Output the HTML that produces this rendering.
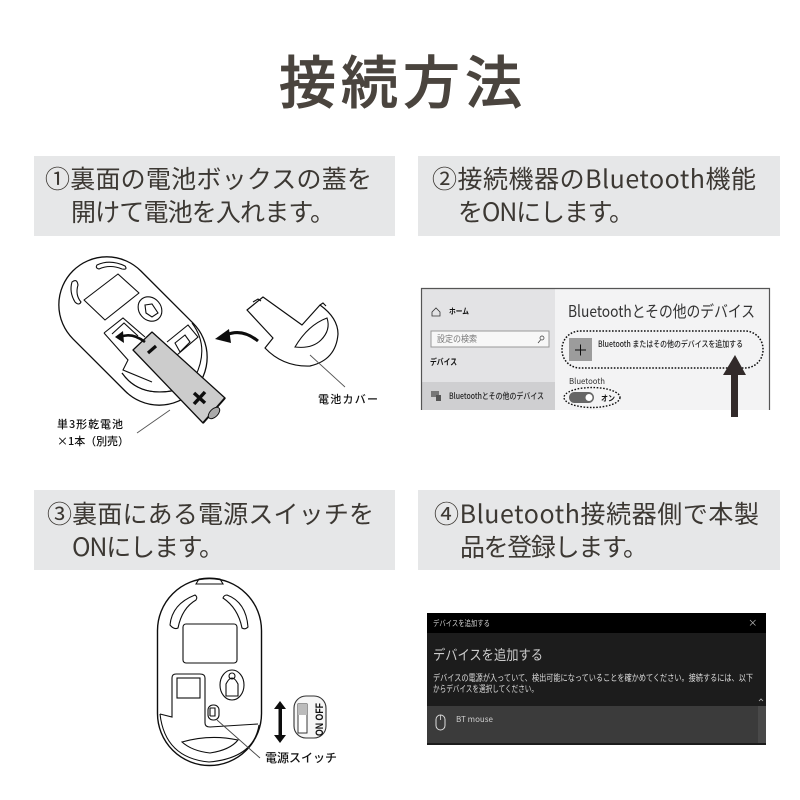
<!DOCTYPE html>
<html lang="ja">
<head>
<meta charset="utf-8">
<title>接続方法</title>
<style>
html,body{margin:0;padding:0;background:#fff;width:800px;height:800px;overflow:hidden}
svg{display:block}
text{font-family:"Noto Sans CJK JP","Liberation Sans",sans-serif}
.h{font-size:25px;fill:#3c3833;font-weight:400}
.l{font-size:11px;fill:#111;font-weight:500}
.s{fill:none;stroke:#111;stroke-width:1.100}
</style>
</head>
<body>
<svg width="800" height="800" viewBox="0 0 800 800" xmlns="http://www.w3.org/2000/svg">
<defs><filter id="b" x="-5%" y="-5%" width="110%" height="110%"><feGaussianBlur stdDeviation="0.3"/></filter></defs>
<rect width="800" height="800" fill="#fff"/>
<text x="279" y="103" textLength="243" font-size="57" font-weight="500" fill="#4a443e" stroke="#4a443e" stroke-width=".7">接続方法</text>

<rect x="34" y="156" width="361" height="80" fill="#e6e7e8"/>
<rect x="418" y="156" width="362" height="80" fill="#e6e7e8"/>
<rect x="34" y="490" width="361" height="80" fill="#e6e7e8"/>
<rect x="418" y="490" width="362" height="80" fill="#e6e7e8"/>

<text class="h" x="45" y="188" textLength="327">①裏面の電池ボックスの蓋を</text>
<text class="h" x="71" y="221" textLength="264">開けて電池を入れます。</text>
<text class="h" x="432" y="188" textLength="324">②接続機器のBluetooth機能</text>
<text class="h" x="458" y="221" textLength="176">をONにします。</text>
<text class="h" x="47" y="523" textLength="327">③裏面にある電源スイッチを</text>
<text class="h" x="72" y="556" textLength="152">ONにします。</text>
<text class="h" x="434" y="523" textLength="325">④Bluetooth接続器側で本製</text>
<text class="h" x="460" y="556" textLength="188">品を登録します。</text>

<!-- Step 1 -->
<g filter="url(#b)">
<rect x="48" y="283" width="170" height="96" rx="48" transform="rotate(45 133 331)" fill="#fff" stroke="#111" stroke-width="1.300"/>
<path class="s" d="M192 323Q210 347 195 377Q185 392 160 392Q135 392 122 373"/>
<path class="s" d="M84 300L118 274L139 293L105 320Z" stroke-linejoin="round"/>
<path class="s" d="M97 265Q110 259 125 266Q128 270 122 269Q110 264 99 269Q95 268 97 265Z"/>
<path class="s" d="M72 282Q77 278 78 285Q75 295 81 302Q79 306 75 302Q69 292 72 282Z"/>
<ellipse class="s" cx="150" cy="309" rx="11" ry="13" transform="rotate(-40 150 309)"/>
<path class="s" d="M145 305L152 304L158 313L152 317L146 313Z"/>
<path class="s" d="M104 333L123 318L145 337M104 333L128 360L123 370L152 382"/>
<path class="s" d="M112 334L124 323L138 336"/>
<path class="s" d="M167 342L188 325L198 337L177 355M175 343L185 335L190 342L180 352Z"/>
<path class="s" d="M122 373Q140 398 175 390" />
<path d="M133 350L152 332L225 398L203 423Z" fill="#ccc" stroke="#111" stroke-width="1.300" stroke-linejoin="round"/>
<path d="M203 423L225 398" stroke="#111" stroke-width="2"/>
<ellipse cx="214" cy="413" rx="4" ry="7" transform="rotate(45 214 413)" fill="#aaa" stroke="#111"/>
<path d="M148 353L156 346" stroke="#111" stroke-width="3.200"/>
<path d="M194 393L205 403M205 392L194 404" stroke="#111" stroke-width="3.500"/>
<path d="M145 342Q132 332 120 337" fill="none" stroke="#111" stroke-width="2.600"/>
<path d="M115 337L123 331L124 343Z" fill="#111"/>
<path d="M258 341Q242 328 226 335" fill="none" stroke="#111" stroke-width="3"/>
<path d="M215 339L229 329L231 343Z" fill="#111"/>
<path d="M247 310L263 297L302 325L320 305Q338 318 338 334Q336 360 310 366Q283 367 265 348L273 338Z" fill="#fff" stroke="#111" stroke-width="1.200" stroke-linejoin="round"/>
<path class="s" d="M295 347Q308 325 327 318Q331 330 321 340Q312 349 295 347Z"/>
<path class="s" d="M253 302L258 299L261 301M320 305L323 303L326 306"/>
<path d="M310 355L345 387M137 433L170 410" stroke="#555" stroke-width=".9" fill="none"/>
</g>
<text class="l" x="318" y="403" textLength="60">電池カバー</text>
<text class="l" x="57" y="428" textLength="66">単3形乾電池</text>
<text class="l" x="57" y="445" textLength="72">×1本（別売）</text>

<!-- Step 2 -->
<g filter="url(#b)">
<rect x="422" y="289" width="347" height="121" fill="#f3f3f4"/>
<rect x="422" y="289" width="133" height="121" fill="#e3e3e5"/>
<rect x="422" y="382" width="133" height="28" fill="#cfcfd1"/>
<path d="M421.500 410V288.500H769.500V410" fill="none" stroke="#555" stroke-width="1.200"/>
<path d="M432 312L436 308L440 312V316H432Z" fill="none" stroke="#333" stroke-width=".8"/>
<rect x="431" y="331" width="118" height="16" fill="#f7f7f7" stroke="#999" stroke-width="1"/>
<circle cx="542" cy="338" r="2" fill="none" stroke="#333" stroke-width=".7"/>
<path d="M540.500 340L538 343" stroke="#333" stroke-width=".7"/>
<rect x="431" y="391" width="8" height="6" fill="#777"/><rect x="436" y="395" width="5" height="6" fill="#555"/>
<rect x="569" y="338" width="23" height="23" fill="#9c9c9c"/>
<path d="M575 350H586M580.500 344.500V355.500" stroke="#111" stroke-width="1"/>
<rect x="562" y="331" width="201" height="37" rx="18" fill="none" stroke="#111" stroke-width="1.500" stroke-dasharray="1.600 1.600"/>
<rect x="569" y="392" width="25" height="11" rx="5.500" fill="#666"/>
<circle cx="589" cy="397.500" r="3.500" fill="#fff"/>
<ellipse cx="592" cy="397.500" rx="28" ry="10" fill="none" stroke="#111" stroke-width="1.400" stroke-dasharray="1.600 1.600"/>
<rect x="731" y="372" width="7" height="45" fill="#302c2a"/>
<path d="M735 355L723 375H746Z" fill="#302c2a"/>
</g>
<text x="449" y="314" font-size="8" font-weight="700" fill="#111" textLength="20" lengthAdjust="spacingAndGlyphs">ホーム</text>
<text x="437" y="342" font-size="9" fill="#777" textLength="40" lengthAdjust="spacingAndGlyphs">設定の検索</text>
<text x="430" y="365" font-size="8.500" font-weight="700" fill="#111" textLength="27" lengthAdjust="spacingAndGlyphs">デバイス</text>
<text x="449" y="399" font-size="8.500" font-weight="500" fill="#222" textLength="95" lengthAdjust="spacingAndGlyphs">Bluetoothとその他のデバイス</text>
<text x="568" y="317" font-size="16" fill="#333" textLength="187" lengthAdjust="spacingAndGlyphs">Bluetoothとその他のデバイス</text>
<text x="598" y="347" font-size="8.500" font-weight="500" fill="#222" textLength="145" lengthAdjust="spacingAndGlyphs">Bluetooth またはその他のデバイスを追加する</text>
<text x="569" y="384" font-size="8" fill="#333" textLength="36" lengthAdjust="spacingAndGlyphs">Bluetooth</text>
<text x="601" y="401" font-size="8" font-weight="700" fill="#111" textLength="14" lengthAdjust="spacingAndGlyphs">オン</text>

<!-- Step 3 -->
<g filter="url(#b)">
<rect x="157.500" y="578.500" width="104" height="187" rx="52" fill="#fff" stroke="#111" stroke-width="1.400"/>
<path class="s" d="M160 714Q165 758 209 762Q254 758 259 725"/>
<path class="s" d="M196 584L199 579Q209 577 220 579L223 584Z"/>
<path class="s" d="M170 625Q172 604 195 595Q198 597 196 600Q182 608 178 628Q174 630 170 625Z"/>
<path class="s" d="M223 598Q224 595 227 595Q246 602 248 627Q245 630 242 628Q238 608 223 598Z"/>
<rect class="s" x="183" y="624" width="54" height="39" rx="3"/>
<path class="s" d="M160 714L172 717V678Q172 674 176 674H200Q205 674 205 678V723Q205 727 210 727L258 724"/>
<rect class="s" x="177" y="678" width="23" height="20"/>
<ellipse class="s" cx="232" cy="685" rx="12" ry="15"/>
<circle class="s" cx="232" cy="676" r="3"/>
<path class="s" d="M226 696V684Q232 672 238 684V696Z"/>
<rect class="s" x="208" y="705" width="11" height="15" rx="5"/>
<path class="s" d="M210 708V716M210 708H215V716H210"/>
<path class="s" d="M182 742Q210 734 238 740Q230 750 210 753Q192 751 182 742Z"/>
<path d="M217 720L260 758" stroke="#444" stroke-width=".9" fill="none"/>
<rect x="278.500" y="705" width="3.500" height="34" fill="#111"/>
<path d="M280 701L274 709H286ZM280 743L274 735H286Z" fill="#111"/>
<rect x="294" y="696" width="32" height="42" rx="12" fill="#f6f6f6" stroke="#333" stroke-width="1.100"/>
<rect x="298" y="704" width="9" height="29" fill="#fff" stroke="#222" stroke-width=".9"/>
<rect x="298" y="704" width="9" height="11" fill="#bbb"/>
</g>
<text transform="translate(323 736) rotate(-90)" font-size="11" font-weight="700" fill="#111" textLength="33" lengthAdjust="spacingAndGlyphs" style="font-family:'Liberation Sans',sans-serif">ON OFF</text>
<text class="l" x="265" y="762" textLength="72" style="font-size:12px">電源スイッチ</text>

<!-- Step 4 -->
<g filter="url(#b)">
<rect x="427" y="613" width="339" height="132" fill="#1e1e1e"/>
<rect x="427" y="613" width="339" height="20" fill="#000"/>
<rect x="427" y="706" width="339" height="37" fill="#3a3a3a"/>
<rect x="758" y="706" width="8" height="37" fill="#4a4a4a"/>
<path d="M750 620L755.500 625.500M755.500 620L750 625.500" stroke="#bbb" stroke-width=".7"/>
<rect x="436" y="715" width="9" height="15" rx="4.500" fill="none" stroke="#ddd" stroke-width="1"/>
<path d="M440.500 715V720" stroke="#ddd" stroke-width=".8"/>
<path d="M759 701L761 699L763 701" stroke="#bbb" fill="none" stroke-width=".8"/>
</g>
<text x="433" y="626" font-size="8" fill="#ccc" textLength="57" lengthAdjust="spacingAndGlyphs">デバイスを追加する</text>
<text x="433" y="660" font-size="14" fill="#ccc" textLength="110" lengthAdjust="spacingAndGlyphs">デバイスを追加する</text>
<text x="433" y="681" font-size="9" fill="#ddd" textLength="320" lengthAdjust="spacingAndGlyphs">デバイスの電源が入っていて、検出可能になっていることを確かめてください。接続するには、以下</text>
<text x="433" y="692" font-size="9" fill="#ddd" textLength="105" lengthAdjust="spacingAndGlyphs">からデバイスを選択してください。</text>
<text x="456" y="722" font-size="8" fill="#ccc" textLength="37" lengthAdjust="spacingAndGlyphs">BT mouse</text>
</svg>
</body>
</html>
